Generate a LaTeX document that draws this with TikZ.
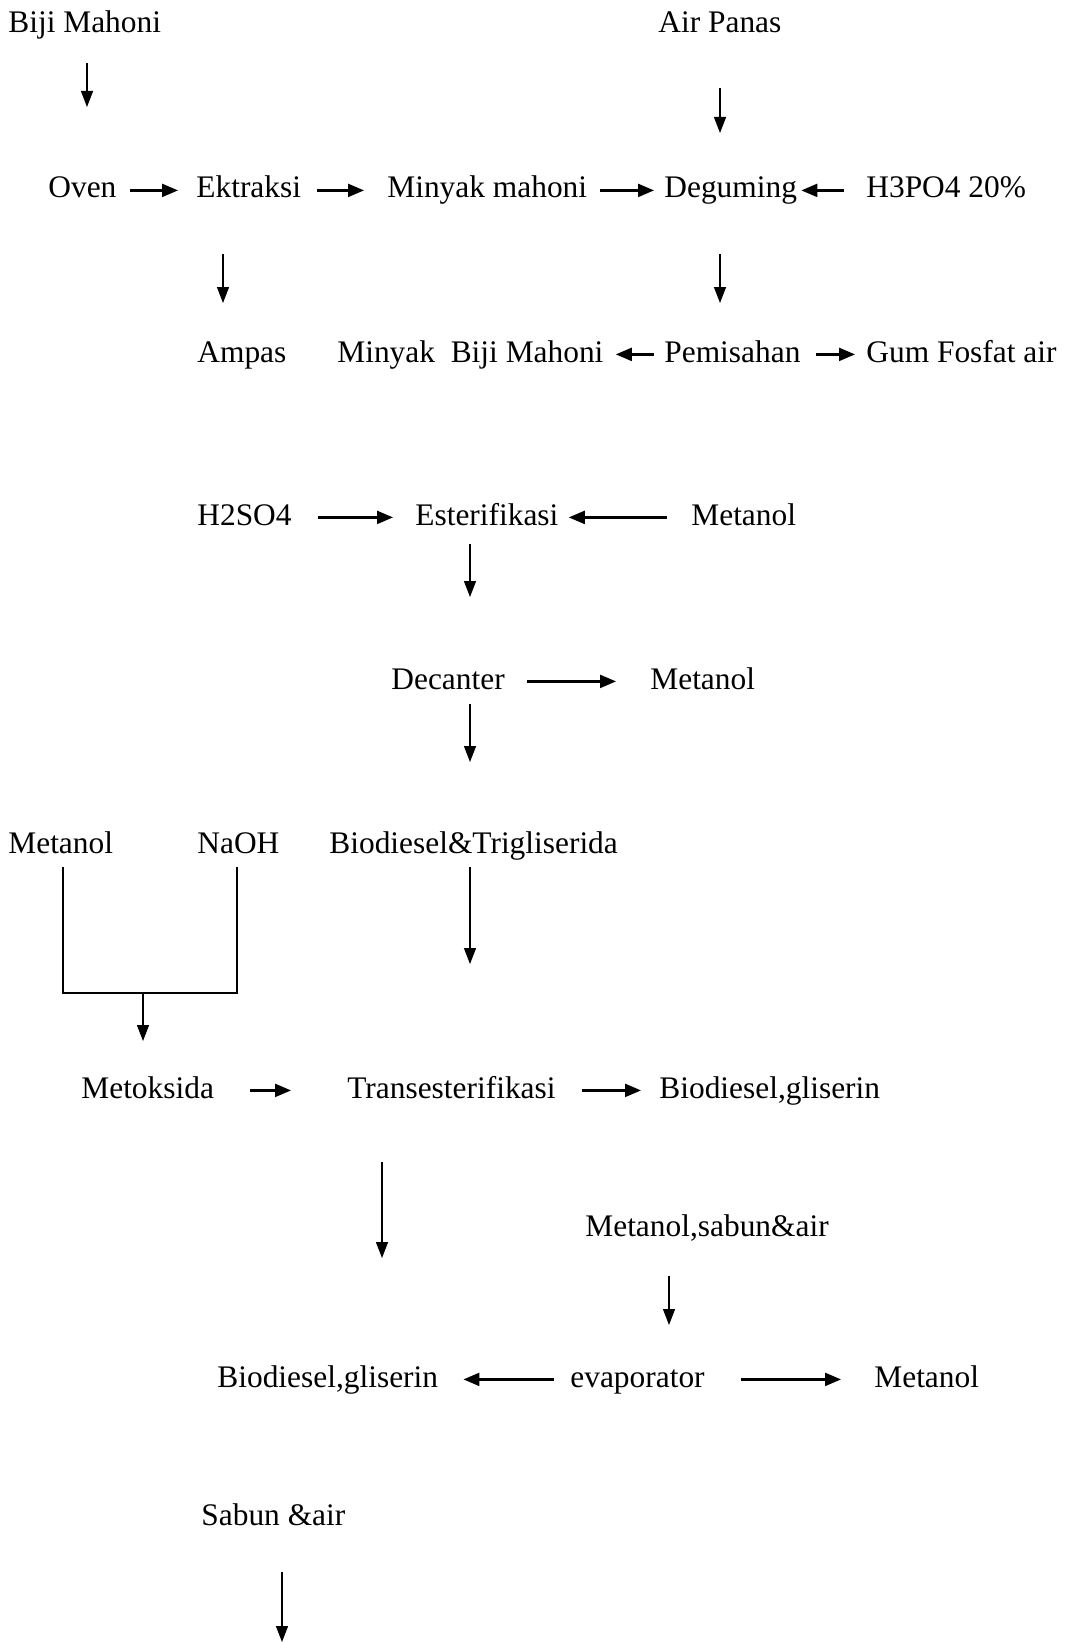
\documentclass[tikz,border=0pt]{standalone}
\usepackage{fontspec}
\setmainfont{Liberation Serif}
\usetikzlibrary{arrows.meta,calc}
\tikzset{
  lbl/.style={anchor=base west, inner sep=0pt, text height=11pt, text depth=3.4pt, font=\fontsize{15.7}{19}\selectfont},
  harr/.style={line width=1.1pt, -{Triangle[length=8pt,width=6.5pt]}},
  varr/.style={line width=0.65pt, -{Triangle[length=8pt,width=6pt]}},
  thinline/.style={line width=0.65pt}
}
\begin{document}
\begin{tikzpicture}[x=0.5pt,y=-0.5pt]
\useasboundingbox (0,0) rectangle (1067,1643);
% row 1
\node[lbl] (biji) at (8,33) {Biji Mahoni};
\node[lbl] (air) at (658,33) {Air Panas};
% row 2
\node[lbl] (oven) at (48,198) {Oven};
\node[lbl] (ektr) at (196,198) {Ektraksi};
\node[lbl] (minm) at (387,198) {Minyak mahoni};
\node[lbl] (degum) at (664,198) {Deguming};
\node[lbl] (h3po4) at (866,198) {H3PO4 20\%};
% row 3
\node[lbl] (ampas) at (197,362) {Ampas};
\node[lbl] (mbm) at (337,362) {Minyak\ \ Biji Mahoni};
\node[lbl] (pemis) at (664,362) {Pemisahan};
\node[lbl] (gum) at (866,362) {Gum Fosfat air};
% row 4
\node[lbl] (h2so4) at (197,525) {H2SO4};
\node[lbl] (ester) at (415,525) {Esterifikasi};
\node[lbl] (meta) at (691,525) {Metanol};
% row 5
\node[lbl] (dec) at (391,689) {Decanter};
\node[lbl] (metb) at (650,689) {Metanol};
% row 6
\node[lbl] (metc) at (8,853) {Metanol};
\node[lbl] (naoh) at (197,853) {NaOH};
\node[lbl] (biotrig) at (329,853) {Biodiesel\&Trigliserida};
% row 7
\node[lbl] (metok) at (81,1098) {Metoksida};
\node[lbl] (trans) at (347,1098) {Transesterifikasi};
\node[lbl] (biogla) at (659,1098) {Biodiesel,gliserin};
% row 8
\node[lbl] (mesa) at (585,1236) {Metanol,sabun\&air};
% row 9
\node[lbl] (bioglb) at (217,1387) {Biodiesel,gliserin};
\node[lbl] (evap) at (570,1387) {evaporator};
\node[lbl] (metd) at (874,1387) {Metanol};
% row 10
\node[lbl] (sabun) at (201,1525) {Sabun \&air};

% horizontal arrows
\draw[harr] ($(oven.east)+(13,0)$) -- ($(ektr.west)+(-18,0)$);
\draw[harr] ($(ektr.east)+(16,0)$) -- ($(minm.west)+(-23,0)$);
\draw[harr] ($(minm.east)+(12,0)$) -- ($(degum.west)+(-10,0)$);
\draw[harr] ($(h3po4.west)+(-22,0)$) -- ($(degum.east)+(4,0)$);
\draw[harr] ($(pemis.west)+(-10,0)$) -- ($(mbm.east)+(12,0)$);
\draw[harr] ($(pemis.east)+(15,0)$) -- ($(gum.west)+(-11,0)$);
\draw[harr] ($(h2so4.east)+(26,0)$) -- ($(ester.west)+(-22,0)$);
\draw[harr] ($(meta.west)+(-24,0)$) -- ($(ester.east)+(10,0)$);
\draw[harr] ($(dec.east)+(22,0)$) -- ($(metb.west)+(-34,0)$);
\draw[harr] ($(metok.east)+(36,0)$) -- ($(trans.west)+(-56,0)$);
\draw[harr] ($(trans.east)+(26,0)$) -- ($(biogla.west)+(-18,0)$);
\draw[harr] ($(evap.west)+(-16,0)$) -- ($(bioglb.east)+(25,0)$);
\draw[harr] ($(evap.east)+(36,0)$) -- ($(metd.west)+(-33,0)$);

% vertical arrows
\coordinate (v1a) at (87,63);   \coordinate (v1b) at (87,107);
\coordinate (v2a) at (720,88);  \coordinate (v2b) at (720,133);
\coordinate (v3a) at (223,254); \coordinate (v3b) at (223,303);
\coordinate (v4a) at (720,254); \coordinate (v4b) at (720,303);
\coordinate (v5a) at (470,544); \coordinate (v5b) at (470,597);
\coordinate (v6a) at (470,704); \coordinate (v6b) at (470,762);
\coordinate (v7a) at (470,867); \coordinate (v7b) at (470,964);
\coordinate (v8a) at (143,993); \coordinate (v8b) at (143,1041);
\coordinate (v9a) at (382,1162); \coordinate (v9b) at (382,1258);
\coordinate (v10a) at (669,1276); \coordinate (v10b) at (669,1325);
\coordinate (v11a) at (282,1572); \coordinate (v11b) at (282,1642);
\draw[varr] (v1a) -- (v1b);
\draw[varr] (v2a) -- (v2b);
\draw[varr] (v3a) -- (v3b);
\draw[varr] (v4a) -- (v4b);
\draw[varr] (v5a) -- (v5b);
\draw[varr] (v6a) -- (v6b);
\draw[varr] (v7a) -- (v7b);
\draw[varr] (v8a) -- (v8b);
\draw[varr] (v9a) -- (v9b);
\draw[varr] (v10a) -- (v10b);
\draw[varr] (v11a) -- (v11b);

% bracket joining Metanol and NaOH
\coordinate (bl) at (63,867);
\coordinate (br) at (237,867);
\draw[thinline] (bl) -- (63,993) -- (237,993) -- (br);
\end{tikzpicture}
\end{document}
